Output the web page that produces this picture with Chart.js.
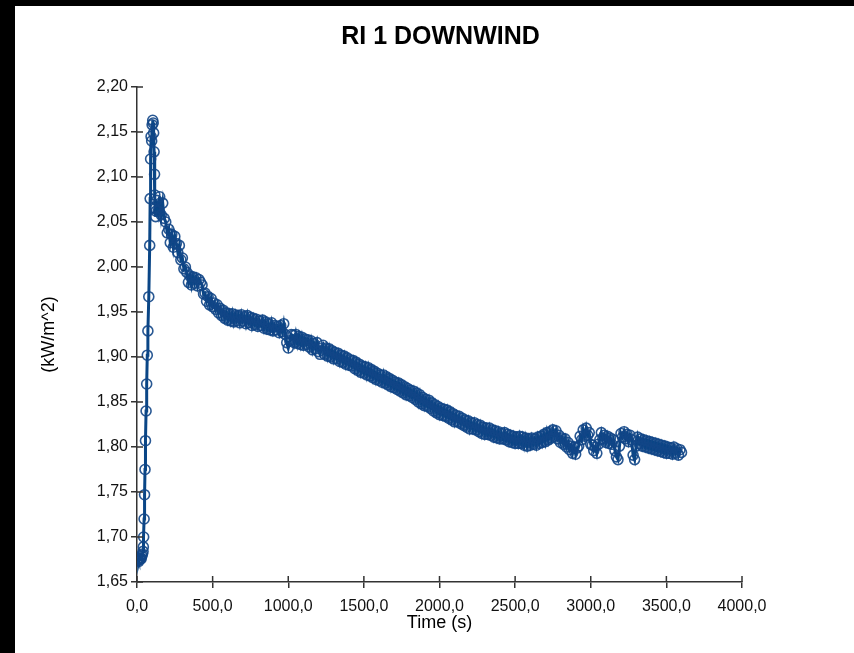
<!DOCTYPE html>
<html>
<head>
<meta charset="utf-8">
<title>RI 1 DOWNWIND</title>
<script src="https://cdn.jsdelivr.net/npm/chart.js@4.4.1/dist/chart.umd.min.js"></script>
<style>
  html, body { margin: 0; padding: 0; background: #fff; overflow: hidden; width: 854px; height: 653px; }
  #franjaSup { position: absolute; left: 0; top: 0; width: 854px; height: 6px; background: #000; }
  #franjaIzq { position: absolute; left: 0; top: 0; width: 15px; height: 653px; background: #000; }
  #wrap { position: absolute; left: 15px; top: 6px; width: 839px; height: 647px; background: #fff; }
</style>
</head>
<body>
<div id="franjaSup"></div>
<div id="franjaIzq"></div>
<div id="wrap"><canvas id="chart" width="839" height="647"></canvas></div>
<script>
// datos
const earlyTimes = [0, 4, 8, 12, 16, 20, 24, 28, 32, 36, 40, 42, 44, 47, 50, 53, 56, 60, 64, 68,
  72, 78, 84, 87, 90, 93, 97, 100, 104, 107, 110, 113, 116, 118, 120, 123, 126];
const earlyValues = [1.675, 1.674, 1.675, 1.673, 1.676, 1.675, 1.677, 1.676, 1.679, 1.681,
  1.684, 1.689, 1.700, 1.720, 1.747, 1.775, 1.807, 1.840, 1.870, 1.902,
  1.929, 1.967, 2.024, 2.076, 2.120, 2.145, 2.140, 2.158, 2.163, 2.160,
  2.149, 2.128, 2.103, 2.080, 2.065, 2.056, 2.062];

// desde t = 130 s, una muestra cada 10 s
const mainStart = 130;
const mainStep = 10;
const mainValues = [
  2.074, 2.062, 2.078, 2.058, 2.071, 2.054, 2.050, 2.038, 2.042, 2.027,
  2.036, 2.022, 2.034, 2.026, 2.016, 2.024, 2.008, 2.010, 1.998, 2.000,
  1.994, 1.983, 1.990, 1.980, 1.989, 1.982, 1.988, 1.979, 1.986, 1.983,
  1.980, 1.970, 1.971, 1.962, 1.967, 1.958, 1.965, 1.956, 1.960, 1.953,
  1.958, 1.949, 1.954, 1.946, 1.952, 1.943, 1.949, 1.941, 1.948, 1.940,
  1.948, 1.939, 1.947, 1.940, 1.946, 1.938, 1.947, 1.940, 1.945, 1.937,
  1.946, 1.938, 1.944, 1.935, 1.943, 1.936, 1.942, 1.934, 1.940, 1.935,
  1.941, 1.932, 1.939, 1.931, 1.937, 1.930, 1.938, 1.929, 1.935, 1.930,
  1.934, 1.927, 1.935, 1.928, 1.937, 1.925, 1.916, 1.910, 1.918, 1.925,
  1.924, 1.916, 1.925, 1.915, 1.923, 1.914, 1.922, 1.913, 1.920, 1.914,
  1.919, 1.911, 1.918, 1.908, 1.915, 1.909, 1.916, 1.906, 1.903, 1.910,
  1.913, 1.903, 1.910, 1.901, 1.909, 1.900, 1.907, 1.898, 1.905, 1.898,
  1.904, 1.895, 1.902, 1.894, 1.901, 1.892, 1.899, 1.891, 1.897, 1.890,
  1.896, 1.887, 1.894, 1.885, 1.892, 1.883, 1.890, 1.882, 1.889, 1.880,
  1.888, 1.879, 1.886, 1.877, 1.884, 1.875, 1.882, 1.874, 1.880, 1.872,
  1.880, 1.871, 1.878, 1.869, 1.876, 1.867, 1.874, 1.866, 1.872, 1.864,
  1.871, 1.862, 1.869, 1.860, 1.867, 1.858, 1.865, 1.857, 1.863, 1.855,
  1.862, 1.853, 1.860, 1.850, 1.858, 1.848, 1.855, 1.846, 1.853, 1.845,
  1.852, 1.843, 1.849, 1.840, 1.847, 1.838, 1.845, 1.836, 1.843, 1.835,
  1.842, 1.834, 1.841, 1.832, 1.839, 1.830, 1.837, 1.828, 1.835, 1.828,
  1.834, 1.826, 1.832, 1.824, 1.830, 1.822, 1.829, 1.820, 1.827, 1.820,
  1.827, 1.819, 1.825, 1.817, 1.824, 1.815, 1.822, 1.814, 1.821, 1.814,
  1.821, 1.813, 1.819, 1.811, 1.818, 1.810, 1.817, 1.809, 1.815, 1.809,
  1.816, 1.808, 1.814, 1.806, 1.813, 1.805, 1.812, 1.804, 1.811, 1.804,
  1.812, 1.804, 1.811, 1.802, 1.810, 1.801, 1.809, 1.802, 1.810, 1.803,
  1.809, 1.802, 1.811, 1.804, 1.812, 1.805, 1.814, 1.806, 1.816, 1.808,
  1.817, 1.810, 1.819, 1.812, 1.818, 1.809, 1.813, 1.805, 1.810, 1.803,
  1.809, 1.800, 1.805, 1.797, 1.801, 1.793, 1.800, 1.792, 1.799, 1.801,
  1.812, 1.808, 1.819, 1.812, 1.821, 1.813, 1.816, 1.803, 1.802, 1.796,
  1.800, 1.793, 1.803, 1.808, 1.816, 1.809, 1.813, 1.805, 1.812, 1.804,
  1.810, 1.803, 1.808, 1.796, 1.789, 1.786, 1.801, 1.815, 1.811, 1.817,
  1.809, 1.814, 1.806, 1.813, 1.808, 1.791, 1.786, 1.801, 1.811, 1.804,
  1.809, 1.801, 1.808, 1.800, 1.807, 1.799, 1.806, 1.798, 1.805, 1.797,
  1.804, 1.796, 1.803, 1.795, 1.802, 1.794, 1.801, 1.793, 1.800, 1.793,
  1.799, 1.792, 1.800, 1.793, 1.798, 1.791, 1.797, 1.794
];

const xTickValues = [0, 500, 1000, 1500, 2000, 2500, 3000, 3500, 4000];
const yTickValues = [1.65, 1.70, 1.75, 1.80, 1.85, 1.90, 1.95, 2.00, 2.05, 2.10, 2.15, 2.20];

const puntos = earlyTimes.map((t, i) => ({ x: t, y: earlyValues[i] }))
  .concat(mainValues.map((v, i) => ({ x: mainStart + i * mainStep, y: v })));

const coma = (v, d) => v.toFixed(d).replace('.', ',');
const fuente = 'Liberation Sans, Arial, sans-serif';

// marcas hacia dentro del eje (la original las cruza)
const ticksDentro = {
  id: 'ticksDentro',
  afterDraw(chart) {
    const { ctx, chartArea, scales } = chart;
    ctx.save();
    ctx.strokeStyle = '#333';
    ctx.lineWidth = 1.5;
    ctx.beginPath();
    scales.x.ticks.forEach(t => {
      const px = scales.x.getPixelForValue(t.value);
      ctx.moveTo(px, chartArea.bottom);
      ctx.lineTo(px, chartArea.bottom - 6);
    });
    scales.y.ticks.forEach(t => {
      const py = scales.y.getPixelForValue(t.value);
      ctx.moveTo(chartArea.left, py);
      ctx.lineTo(chartArea.left + 6, py);
    });
    ctx.stroke();
    ctx.restore();
  }
};

new Chart(document.getElementById('chart'), {
  type: 'line',
  data: {
    datasets: [{
      data: puntos,
      borderColor: '#0a4686',
      borderWidth: 3,
      tension: 0,
      pointRadius: 5,
      pointBorderWidth: 1.6,
      pointBorderColor: 'rgba(18, 70, 135, 0.9)',
      pointBackgroundColor: 'rgba(0,0,0,0)'
    }]
  },
  options: {
    responsive: false,
    animation: false,
    layout: { padding: { left: 12, right: 0, top: 0, bottom: 0 } },
    plugins: {
      legend: { display: false },
      tooltip: { enabled: false },
      title: {
        display: true,
        text: 'RI 1 DOWNWIND',
        color: '#000',
        font: { family: fuente, size: 25, weight: 'bold' },
        padding: { top: 16, bottom: 35 }
      }
    },
    scales: {
      x: {
        type: 'linear',
        min: 0,
        max: 4000,
        afterBuildTicks: s => { s.ticks = xTickValues.map(v => ({ value: v })); },
        afterFit: s => { s.height = 71; },
        grid: { drawOnChartArea: false, drawTicks: true, tickLength: 6, color: '#333', lineWidth: 1.5 },
        border: { display: true, color: '#333', width: 1.5 },
        ticks: {
          color: '#111',
          padding: 9,
          maxRotation: 0,
          font: { family: fuente, size: 16 },
          callback: v => coma(v, 1)
        },
        title: {
          display: true,
          text: 'Time (s)',
          color: '#000',
          font: { family: fuente, size: 18 },
          padding: { top: 0, bottom: 19 }
        }
      },
      y: {
        type: 'linear',
        min: 1.65,
        max: 2.20,
        afterBuildTicks: s => { s.ticks = yTickValues.map(v => ({ value: v })); },
        afterFit: s => { s.width = 110; },
        grid: { drawOnChartArea: false, drawTicks: true, tickLength: 6, color: '#333', lineWidth: 1.5 },
        border: { display: true, color: '#333', width: 1.5 },
        ticks: {
          color: '#111',
          padding: 3,
          font: { family: fuente, size: 16 },
          callback: v => coma(v, 2)
        },
        title: {
          display: true,
          text: '(kW/m^2)',
          color: '#000',
          font: { family: fuente, size: 18 },
          padding: { top: 11, bottom: 0 }
        }
      },
      // eje vacío a la derecha, solo reserva el margen
      margenDer: {
        type: 'linear',
        position: 'right',
        min: 0,
        max: 1,
        afterFit: s => { s.width = 112; },
        grid: { display: false },
        border: { display: false },
        ticks: { display: false }
      }
    }
  },
  plugins: [ticksDentro]
});
</script>
</body>
</html>
